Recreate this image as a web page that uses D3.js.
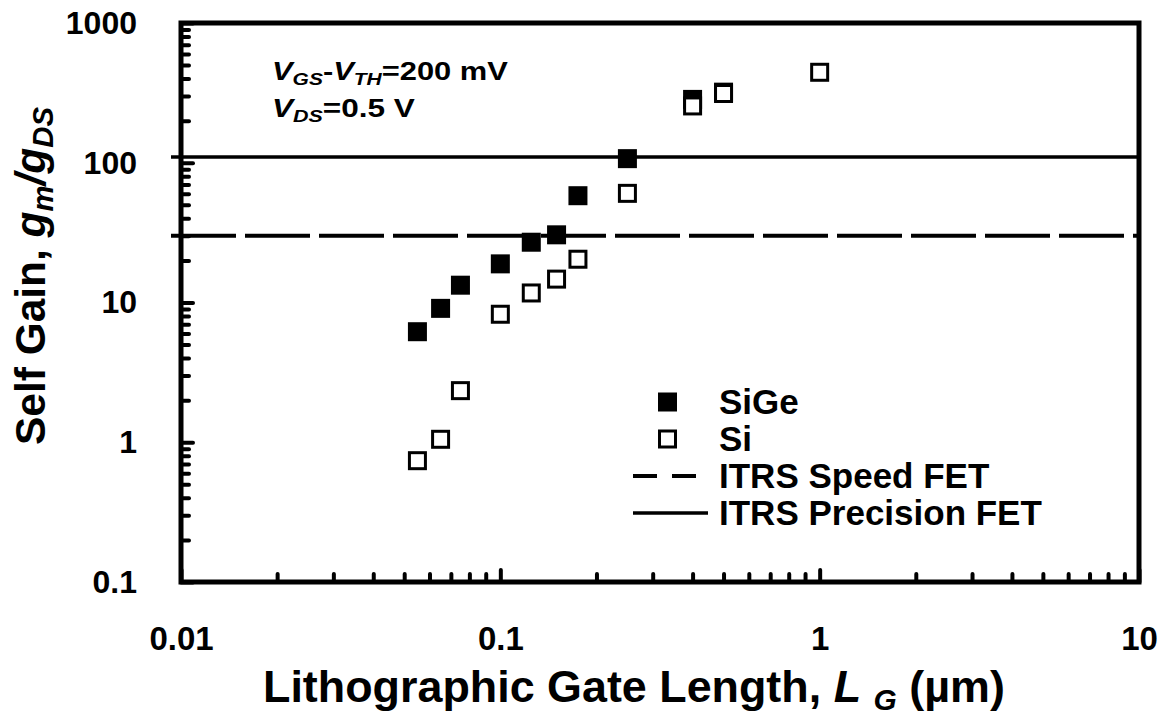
<!DOCTYPE html>
<meta charset="utf-8" />
<html>
  <style>
    body { margin: 0; background: #fff; }
    text { font-family: "Liberation Sans", Arial, sans-serif; font-weight: bold; fill: #000; }
    .tick line { stroke: #000; stroke-width: 4px; stroke-linecap: round; }
  </style>
  <body>
    <svg width="1168" height="718"></svg>
    <script src="https://d3js.org/d3.v7.min.js"></script>
    <script>
  // gate length (um) and self gain
  var lgSiGe = [0.055, 0.065, 0.075, 0.1, 0.125, 0.15, 0.175, 0.25, 0.4, 0.5];
  var gainSiGe = [6.18, 9.08, 13.3, 18.9, 27.0, 30.5, 58.1, 107, 284, 320];
  var lgSi = [0.055, 0.065, 0.075, 0.1, 0.125, 0.15, 0.175, 0.25, 0.4, 0.5, 1.0];
  var gainSi = [0.738, 1.05, 2.34, 8.24, 11.7, 14.7, 20.4, 60.4, 255, 313, 444];

  // ITRS targets
  var itrsSpeed = 30;
  var itrsPrecision = 110;

  var xTicks = [0.01, 0.1, 1, 10];
  var xTickLabels = ["0.01", "0.1", "1", "10"];
  var yTicks = [0.1, 1, 10, 100, 1000];
  var yTickLabels = ["0.1", "1", "10", "100", "1000"];

  var legendNames = ["SiGe", "Si", "ITRS Speed FET", "ITRS Precision FET"];

  var svg = d3.select("svg");

  var x = d3.scaleLog().domain([0.01, 10]).range([181, 1139]);
  var y = d3.scaleLog().domain([0.1, 1000]).range([582, 23]);

  // shrink/stretch a text line so it spans the same width as in the picture
  function fit(sel, x0, y0, w, rot) {
    var len = sel.node().getComputedTextLength();
    var t = "translate(" + x0 + "," + y0 + ")" + (rot ? " rotate(-90)" : "");
    sel.attr("transform", t + " scale(" + (w / len) + ",1)");
  }

  // minor ticks (no labels)
  var xMinor = x.ticks().filter(function (d) { return xTicks.indexOf(d) < 0; });
  var yMinor = y.ticks().filter(function (d) { return yTicks.indexOf(d) < 0; });

  svg.append("g")
    .attr("transform", "translate(0,582)")
    .call(d3.axisBottom(x).tickValues(xMinor).tickSize(-8).tickFormat(""))
    .select(".domain").remove();

  svg.append("g")
    .attr("transform", "translate(181,0)")
    .call(d3.axisLeft(y).tickValues(yMinor).tickSize(-8).tickFormat(""))
    .select(".domain").remove();

  // major ticks with labels
  var gx = svg.append("g")
    .attr("transform", "translate(0,582)")
    .call(d3.axisBottom(x).tickValues(xTicks).tickSize(-12).tickPadding(45)
      .tickFormat(function (d, i) { return xTickLabels[i]; }));
  gx.select(".domain").remove();
  gx.selectAll("text").attr("font-size", "33px").attr("font-family", null);

  var gy = svg.append("g")
    .attr("transform", "translate(181,0)")
    .call(d3.axisLeft(y).tickValues(yTicks).tickSize(-12).tickPadding(44)
      .tickFormat(function (d, i) { return yTickLabels[i]; }));
  gy.select(".domain").remove();
  gy.selectAll("text").attr("font-size", "32px").attr("font-family", null);

  // ITRS reference lines
  svg.append("line")
    .attr("x1", 171).attr("x2", x(10))
    .attr("y1", y(itrsSpeed)).attr("y2", y(itrsSpeed))
    .attr("stroke", "#000").attr("stroke-width", 4)
    .attr("stroke-dasharray", "65,9");

  svg.append("line")
    .attr("x1", 171).attr("x2", x(10))
    .attr("y1", y(itrsPrecision)).attr("y2", y(itrsPrecision))
    .attr("stroke", "#000").attr("stroke-width", 3.5);

  // SiGe (filled) then Si (open, drawn on top)
  svg.append("g").selectAll("rect")
    .data(lgSiGe)
    .enter()
    .append("rect")
    .attr("x", function (d) { return x(d) - 9.5; })
    .attr("y", function (d, i) { return y(gainSiGe[i]) - 9.5; })
    .attr("width", 19).attr("height", 19)
    .attr("fill", "#000");

  svg.append("g").selectAll("rect")
    .data(lgSi)
    .enter()
    .append("rect")
    .attr("x", function (d) { return x(d) - 8; })
    .attr("y", function (d, i) { return y(gainSi[i]) - 8; })
    .attr("width", 16).attr("height", 16)
    .attr("fill", "#fff").attr("stroke", "#000").attr("stroke-width", 3);

  // frame
  svg.append("rect")
    .attr("x", 181).attr("y", 23)
    .attr("width", 1139 - 181).attr("height", 582 - 23)
    .attr("fill", "none").attr("stroke", "#000").attr("stroke-width", 5);

  // condition text
  var c1 = svg.append("text").attr("font-size", "25px");
  c1.append("tspan").attr("font-style", "italic").text("V");
  c1.append("tspan").attr("font-style", "italic").attr("font-size", "17px").attr("dy", 5).text("GS");
  c1.append("tspan").attr("dy", -5).text("-");
  c1.append("tspan").attr("font-style", "italic").text("V");
  c1.append("tspan").attr("font-style", "italic").attr("font-size", "17px").attr("dy", 5).text("TH");
  c1.append("tspan").attr("dy", -5).text("=200 mV");
  fit(c1, 272, 80, 236);

  var c2 = svg.append("text").attr("font-size", "25px");
  c2.append("tspan").attr("font-style", "italic").text("V");
  c2.append("tspan").attr("font-style", "italic").attr("font-size", "17px").attr("dy", 5).text("DS");
  c2.append("tspan").attr("dy", -5).text("=0.5 V");
  fit(c2, 272, 117, 143);

  // legend
  var legY = [402, 439, 476, 513];
  svg.append("rect").attr("x", 658).attr("y", legY[0] - 9.5)
    .attr("width", 19).attr("height", 19).attr("fill", "#000");
  svg.append("rect").attr("x", 659.5).attr("y", legY[1] - 8)
    .attr("width", 16).attr("height", 16)
    .attr("fill", "#fff").attr("stroke", "#000").attr("stroke-width", 3);
  svg.append("line").attr("x1", 633).attr("x2", 700)
    .attr("y1", legY[2]).attr("y2", legY[2])
    .attr("stroke", "#000").attr("stroke-width", 4).attr("stroke-dasharray", "24,15");
  svg.append("line").attr("x1", 633).attr("x2", 708)
    .attr("y1", legY[3]).attr("y2", legY[3])
    .attr("stroke", "#000").attr("stroke-width", 3.5);

  svg.append("g").selectAll("text")
    .data(legendNames)
    .enter()
    .append("text")
    .attr("x", 719)
    .attr("y", function (d, i) { return legY[i] + 12; })
    .attr("font-size", "35px")
    .text(function (d) { return d; });

  // x axis title
  var xt = svg.append("text").attr("font-size", "45px");
  xt.append("tspan").text("Lithographic Gate Length, ");
  xt.append("tspan").attr("font-style", "italic").text("L");
  xt.append("tspan").text(" ");
  xt.append("tspan").attr("font-style", "italic").attr("font-size", "30px").attr("dy", 8).text("G");
  xt.append("tspan").attr("dy", -8).text("  (\u00b5m)");
  fit(xt, 263, 702, 742);

  // y axis title
  var yt = svg.append("text").attr("font-size", "42px");
  yt.append("tspan").text("Self Gain,  ");
  yt.append("tspan").attr("font-style", "italic").text("g");
  yt.append("tspan").attr("font-style", "italic").attr("font-size", "29px").attr("dy", 8).text("m");
  yt.append("tspan").attr("font-style", "italic").attr("dy", -8).text("/g");
  yt.append("tspan").attr("font-style", "italic").attr("font-size", "29px").attr("dy", 8).text("DS");
  fit(yt, 45, 445, 338, true);
    </script>
  </body>
</html>
